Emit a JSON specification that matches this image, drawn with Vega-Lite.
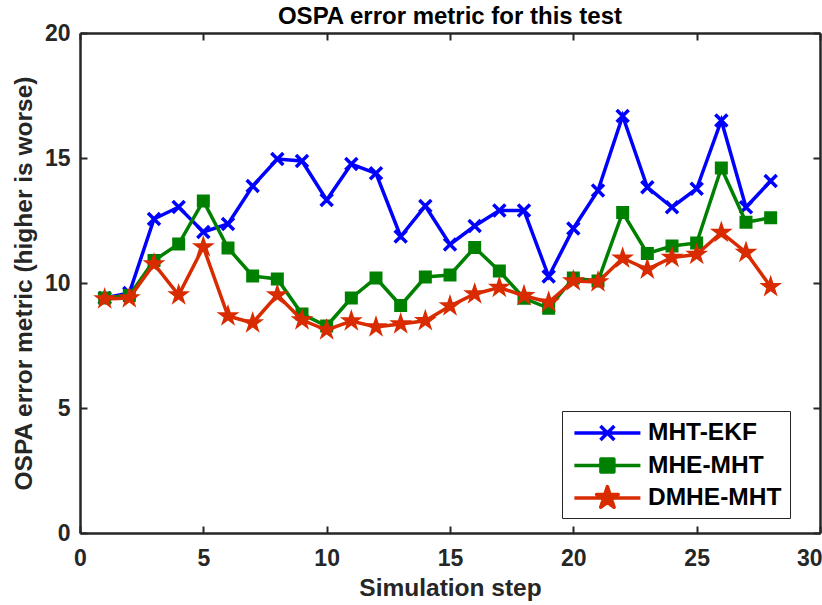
{
  "$schema": "https://vega.github.io/schema/vega-lite/v6.json",
  "width": 740,
  "height": 500,
  "autosize": {"type": "none"},
  "padding": {"left": 80, "top": 33, "right": 2, "bottom": 72},
  "background": "white",
  "title": {"text": "OSPA error metric for this test", "font": "Liberation Sans", "fontSize": 24, "fontWeight": "bold", "color": "#000000", "offset": -7, "anchor": "middle"},
  "config": {
    "view": {"stroke": null},
    "axis": {"domainColor": "#262626", "domainWidth": 2.5, "tickColor": "#262626", "tickWidth": 2, "labelColor": "#262626", "labelFont": "Liberation Sans", "labelFontWeight": "bold", "labelFontSize": 23, "titleFont": "Liberation Sans", "titleFontWeight": "bold", "titleFontSize": 24.5, "titleColor": "#262626", "grid": false, "labelFlush": false},
    "legend": {"labelFont": "Liberation Sans", "labelFontWeight": "bold", "labelFontSize": 24.5, "labelColor": "#000000"}
  },
  "data": {"values": [
    {"step":1,"series":"MHT-EKF","v":9.4},{"step":2,"series":"MHT-EKF","v":9.6},{"step":3,"series":"MHT-EKF","v":12.56},{"step":4,"series":"MHT-EKF","v":13.04},{"step":5,"series":"MHT-EKF","v":12.04},{"step":6,"series":"MHT-EKF","v":12.36},{"step":7,"series":"MHT-EKF","v":13.88},{"step":8,"series":"MHT-EKF","v":14.96},{"step":9,"series":"MHT-EKF","v":14.88},{"step":10,"series":"MHT-EKF","v":13.32},{"step":11,"series":"MHT-EKF","v":14.76},{"step":12,"series":"MHT-EKF","v":14.39},{"step":13,"series":"MHT-EKF","v":11.86},{"step":14,"series":"MHT-EKF","v":13.08},{"step":15,"series":"MHT-EKF","v":11.54},{"step":16,"series":"MHT-EKF","v":12.28},{"step":17,"series":"MHT-EKF","v":12.9},{"step":18,"series":"MHT-EKF","v":12.9},{"step":19,"series":"MHT-EKF","v":10.26},{"step":20,"series":"MHT-EKF","v":12.18},{"step":21,"series":"MHT-EKF","v":13.7},{"step":22,"series":"MHT-EKF","v":16.68},{"step":23,"series":"MHT-EKF","v":13.83},{"step":24,"series":"MHT-EKF","v":13.03},{"step":25,"series":"MHT-EKF","v":13.77},{"step":26,"series":"MHT-EKF","v":16.5},{"step":27,"series":"MHT-EKF","v":13.03},{"step":28,"series":"MHT-EKF","v":14.08},
    {"step":1,"series":"MHE-MHT","v":9.4},{"step":2,"series":"MHE-MHT","v":9.5},{"step":3,"series":"MHE-MHT","v":10.9},{"step":4,"series":"MHE-MHT","v":11.56},{"step":5,"series":"MHE-MHT","v":13.28},{"step":6,"series":"MHE-MHT","v":11.4},{"step":7,"series":"MHE-MHT","v":10.28},{"step":8,"series":"MHE-MHT","v":10.16},{"step":9,"series":"MHE-MHT","v":8.76},{"step":10,"series":"MHE-MHT","v":8.28},{"step":11,"series":"MHE-MHT","v":9.4},{"step":12,"series":"MHE-MHT","v":10.2},{"step":13,"series":"MHE-MHT","v":9.1},{"step":14,"series":"MHE-MHT","v":10.24},{"step":15,"series":"MHE-MHT","v":10.32},{"step":16,"series":"MHE-MHT","v":11.42},{"step":17,"series":"MHE-MHT","v":10.48},{"step":18,"series":"MHE-MHT","v":9.39},{"step":19,"series":"MHE-MHT","v":8.99},{"step":20,"series":"MHE-MHT","v":10.2},{"step":21,"series":"MHE-MHT","v":10.08},{"step":22,"series":"MHE-MHT","v":12.82},{"step":23,"series":"MHE-MHT","v":11.18},{"step":24,"series":"MHE-MHT","v":11.48},{"step":25,"series":"MHE-MHT","v":11.6},{"step":26,"series":"MHE-MHT","v":14.6},{"step":27,"series":"MHE-MHT","v":12.43},{"step":28,"series":"MHE-MHT","v":12.61},
    {"step":1,"series":"DMHE-MHT","v":9.36},{"step":2,"series":"DMHE-MHT","v":9.4},{"step":3,"series":"DMHE-MHT","v":10.76},{"step":4,"series":"DMHE-MHT","v":9.52},{"step":5,"series":"DMHE-MHT","v":11.44},{"step":6,"series":"DMHE-MHT","v":8.68},{"step":7,"series":"DMHE-MHT","v":8.4},{"step":8,"series":"DMHE-MHT","v":9.52},{"step":9,"series":"DMHE-MHT","v":8.52},{"step":10,"series":"DMHE-MHT","v":8.12},{"step":11,"series":"DMHE-MHT","v":8.48},{"step":12,"series":"DMHE-MHT","v":8.24},{"step":13,"series":"DMHE-MHT","v":8.36},{"step":14,"series":"DMHE-MHT","v":8.49},{"step":15,"series":"DMHE-MHT","v":9.08},{"step":16,"series":"DMHE-MHT","v":9.56},{"step":17,"series":"DMHE-MHT","v":9.82},{"step":18,"series":"DMHE-MHT","v":9.49},{"step":19,"series":"DMHE-MHT","v":9.23},{"step":20,"series":"DMHE-MHT","v":10.08},{"step":21,"series":"DMHE-MHT","v":10.04},{"step":22,"series":"DMHE-MHT","v":10.99},{"step":23,"series":"DMHE-MHT","v":10.55},{"step":24,"series":"DMHE-MHT","v":11.02},{"step":25,"series":"DMHE-MHT","v":11.14},{"step":26,"series":"DMHE-MHT","v":12.02},{"step":27,"series":"DMHE-MHT","v":11.22},{"step":28,"series":"DMHE-MHT","v":9.85}
  ]},
  "layer": [
    {
      "mark": {"type": "point", "opacity": 0},
      "encoding": {
        "x": {"field": "step", "type": "quantitative", "scale": {"domain": [0, 30], "nice": false}, "axis": {"orient": "bottom", "values": [0,5,10,15,20,25,30], "tickSize": -7, "labelPadding": 21, "labelAlign": {"expr": "datum.value === 30 ? 'right' : 'center'"}, "labelOffset": {"expr": "datum.value === 30 ? 2 : 0"}, "title": "Simulation step", "titlePadding": 6}},
        "y": {"field": "v", "type": "quantitative", "scale": {"domain": [0, 20], "nice": false, "zero": false}, "axis": {"orient": "left", "values": [0,5,10,15,20], "tickSize": -7, "labelPadding": 17, "title": "OSPA error metric (higher is worse)", "titlePadding": 8}}
      }
    },
    {
      "mark": {"type": "point", "opacity": 0},
      "encoding": {
        "x": {"field": "step", "type": "quantitative", "axis": {"orient": "top", "values": [0,5,10,15,20,25,30], "tickSize": -7, "labels": false, "title": null}},
        "y": {"field": "v", "type": "quantitative", "axis": {"orient": "right", "values": [0,5,10,15,20], "tickSize": -7, "labels": false, "title": null}}
      }
    },
    {
      "transform": [{"filter": "datum.series === 'MHT-EKF'"}],
      "mark": {"type": "line", "strokeWidth": 3.5},
      "encoding": {
        "x": {"field": "step", "type": "quantitative", "axis": null},
        "y": {"field": "v", "type": "quantitative", "axis": null},
        "color": {"field": "series", "type": "nominal", "scale": {"domain": ["MHT-EKF", "MHE-MHT", "DMHE-MHT"], "range": ["#0000ff", "#008000", "#d92b00"]},
          "legend": {"orient": "none", "legendX": 482, "legendY": 378, "title": null, "strokeColor": "#262626", "fillColor": "#ffffff", "padding": 8, "rowPadding": 6.5, "labelOffset": 50, "symbolSize": 576, "symbolStrokeWidth": 3.5,
            "encode": {"symbols": {"update": {
              "shape": {"signal": "datum.value === 'MHT-EKF' ? 'M-0.8,0H4.7M1.37,-0.58L2.53,0.58M1.37,0.58L2.53,-0.58' : datum.value === 'MHE-MHT' ? 'M-0.8,0H4.7M1.41,-0.54H2.49V0.54H1.41Z' : 'M-0.8,0H4.7M1.95,-0.95L2.164,-0.294L2.853,-0.294L2.295,0.112L2.509,0.769L1.95,0.363L1.391,0.769L1.605,0.112L1.047,-0.294L1.736,-0.294Z'"},
              "fill": {"signal": "datum.value === 'MHT-EKF' ? 'transparent' : datum.value === 'MHE-MHT' ? '#008000' : '#d92b00'"},
              "stroke": {"signal": "datum.value === 'MHT-EKF' ? '#0000ff' : datum.value === 'MHE-MHT' ? '#008000' : '#d92b00'"},
              "strokeJoin": {"value": "round"},
              "opacity": {"value": 1}
            }}}}}
      }
    },
    {
      "transform": [{"filter": "datum.series === 'MHT-EKF'"}],
      "mark": {"type": "point", "shape": "M-1,-1L1,1M-1,1L1,-1", "size": 144, "strokeWidth": 3.5, "filled": false, "opacity": 1},
      "encoding": {
        "x": {"field": "step", "type": "quantitative", "axis": null},
        "y": {"field": "v", "type": "quantitative", "axis": null},
        "color": {"field": "series", "type": "nominal", "legend": null}
      }
    },
    {
      "transform": [{"filter": "datum.series === 'MHE-MHT'"}],
      "mark": {"type": "line", "strokeWidth": 3.5},
      "encoding": {
        "x": {"field": "step", "type": "quantitative", "axis": null},
        "y": {"field": "v", "type": "quantitative", "axis": null},
        "color": {"field": "series", "type": "nominal"}
      }
    },
    {
      "transform": [{"filter": "datum.series === 'MHE-MHT'"}],
      "mark": {"type": "square", "size": 169, "filled": true, "opacity": 1},
      "encoding": {
        "x": {"field": "step", "type": "quantitative", "axis": null},
        "y": {"field": "v", "type": "quantitative", "axis": null},
        "color": {"field": "series", "type": "nominal", "legend": null}
      }
    },
    {
      "transform": [{"filter": "datum.series === 'DMHE-MHT'"}],
      "mark": {"type": "line", "strokeWidth": 3.5},
      "encoding": {
        "x": {"field": "step", "type": "quantitative", "axis": null},
        "y": {"field": "v", "type": "quantitative", "axis": null},
        "color": {"field": "series", "type": "nominal"}
      }
    },
    {
      "transform": [{"filter": "datum.series === 'DMHE-MHT'"}],
      "mark": {"type": "point", "shape": "M0,-1L0.225,-0.309L0.951,-0.309L0.363,0.118L0.588,0.809L0,0.382L-0.588,0.809L-0.363,0.118L-0.951,-0.309L-0.225,-0.309Z", "size": 576, "filled": true, "opacity": 1},
      "encoding": {
        "x": {"field": "step", "type": "quantitative", "axis": null},
        "y": {"field": "v", "type": "quantitative", "axis": null},
        "color": {"field": "series", "type": "nominal", "legend": null}
      }
    }
  ],
  "resolve": {"axis": {"x": "independent", "y": "independent"}}
}
